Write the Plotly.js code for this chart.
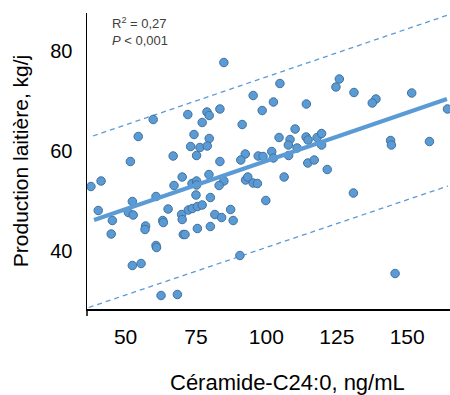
<!DOCTYPE html>
<html>
<head>
<meta charset="utf-8">
<script src="https://cdn.plot.ly/plotly-3.0.1.min.js"></script>
<style>
  html, body { margin: 0; padding: 0; background: #fff; }
  #chart { width: 450px; height: 395px; }
</style>
</head>
<body>
<div id="chart"></div>
<script>
// Céramide-C24:0 (ng/mL)
const ceramide = [
  37.7, 41.3, 51.7, 54.5, 59.8, 72.1, 78.9, 79.7, 77.2, 74.3,
  79.7, 73.1, 76.4, 79.0, 66.9, 75.2, 84.9, 104.8, 95.3, 102.5,
  114.2, 83.5, 98.5, 91.4, 110.2, 104.5, 108.4, 107.8, 114.1, 114.8,
  118.0, 119.6, 119.6, 110.9, 101.9, 92.5, 90.9, 97.1, 98.8, 102.5,
  107.9, 83.5, 114.7, 117.0, 121.6, 125.9, 124.7, 131.1, 138.9, 137.6,
  151.6, 164.3, 144.1, 144.4, 157.9, 40.3, 45.3, 44.9, 52.4, 51.0,
  52.7, 60.8, 57.1, 56.9, 65.1, 63.2, 63.4, 60.8, 61.0, 67.2,
  70.1, 73.6, 75.2, 75.2, 75.0, 79.6, 80.1, 69.9, 70.1, 72.3,
  73.7, 75.5, 77.2, 70.5, 71.1, 75.5, 80.1, 52.4, 55.5, 62.6,
  68.4, 84.9, 83.2, 92.6, 93.4, 95.3, 96.8, 106.3, 99.8, 81.7,
  84.1, 87.3, 88.2, 90.6, 130.9, 145.7
];
// Production laitière (kg/j)
const production = [
  52.8, 53.9, 57.8, 62.8, 66.2, 67.2, 67.7, 67.0, 65.6, 63.2,
  62.4, 60.8, 60.6, 60.9, 58.9, 59.0, 77.6, 73.4, 71.0, 69.7,
  69.3, 68.3, 68.0, 65.2, 64.3, 62.6, 62.2, 61.1, 62.7, 62.1,
  62.6, 63.4, 61.1, 60.5, 59.8, 59.3, 58.1, 58.9, 58.8, 58.5,
  59.0, 57.8, 57.5, 58.1, 56.2, 74.3, 72.7, 71.6, 70.3, 69.5,
  71.5, 68.3, 62.0, 61.1, 61.8, 48.0, 46.0, 43.3, 49.8, 47.6,
  47.1, 50.8, 44.9, 44.2, 48.3, 46.0, 45.6, 41.0, 40.6, 53.0,
  54.7, 53.4, 53.9, 53.1, 51.1, 55.2, 50.6, 47.2, 46.2, 48.1,
  48.4, 48.8, 49.1, 43.2, 43.2, 44.4, 44.8, 37.0, 37.4, 31.0,
  31.2, 53.9, 53.0, 54.1, 54.7, 53.5, 53.4, 54.7, 50.0, 47.2,
  46.6, 48.2, 46.0, 39.0, 51.5, 35.4
];
// Regression line and prediction band endpoints
const fitX = [38.8, 164.1];
const fitY = [46.1, 70.3];
const upperX = [38.4, 164.5];
const upperY = [62.9, 87.1];
const lowerX = [36.9, 164.5];
const lowerY = [28.6, 52.9];
// Ticks and texts
const xTicks = [50, 75, 100, 125, 150];
const yTicks = [40, 60, 80];
const xTitle = 'Céramide-C24:0, ng/mL';
const yTitle = 'Production laitière, kg/j';
const statText = 'R<sup>2</sup> = 0,27<br><i>P</i> < 0,001';

const FONT = '"Liberation Sans Narrow", "Arial Narrow", "Liberation Sans", Arial, sans-serif';
const BLUE = '#5B9BD5';

const traces = [
  { x: upperX, y: upperY, mode: 'lines', type: 'scatter',
    line: { color: BLUE, width: 1.3, dash: '5px,4px' }, hoverinfo: 'skip', showlegend: false },
  { x: lowerX, y: lowerY, mode: 'lines', type: 'scatter',
    line: { color: BLUE, width: 1.3, dash: '5px,4px' }, hoverinfo: 'skip', showlegend: false },
  { x: ceramide, y: production, mode: 'markers', type: 'scatter',
    marker: { size: 8.5, color: BLUE, line: { color: '#41719C', width: 1 } }, showlegend: false },
  { x: fitX, y: fitY, mode: 'lines', type: 'scatter',
    line: { color: BLUE, width: 4 }, hoverinfo: 'skip', showlegend: false }
];

const layout = {
  width: 450, height: 395,
  margin: { l: 87, r: 0, t: 13, b: 86 },
  paper_bgcolor: '#fff', plot_bgcolor: '#fff',
  font: { family: FONT, color: '#000' },
  showlegend: false,
  xaxis: {
    range: [36.3, 165.2], tickvals: xTicks, ticktext: xTicks.map(String),
    showgrid: false, zeroline: false, showline: true, linecolor: '#000', linewidth: 1.5,
    ticks: '', ticklabelstandoff: 8, tickfont: { family: FONT, size: 21, color: '#000' }
  },
  yaxis: {
    range: [28.3, 87.5], tickvals: yTicks, ticktext: yTicks.map(String),
    showgrid: false, zeroline: false, showline: true, linecolor: '#000', linewidth: 1.5,
    ticks: '', ticklabelstandoff: 9, tickfont: { family: FONT, size: 20, color: '#000' },
    title: { text: yTitle, font: { family: FONT, size: 21, color: '#000' }, standoff: 16 }
  },
  shapes: [
    { type: 'line', xref: 'paper', yref: 'paper', x0: 0, x1: 0, y0: 0, y1: -7 / 296,
      line: { color: '#000', width: 1.5 } }
  ],
  annotations: [
    { xref: 'paper', yref: 'paper', x: 23 / 363, y: 1, xanchor: 'left', yanchor: 'top',
      text: statText, showarrow: false, align: 'left',
      font: { family: FONT, size: 13, color: '#404040' } },
    { xref: 'paper', yref: 'paper', x: (287.5 - 87) / 363, y: (309 - 382) / 296,
      xanchor: 'center', yanchor: 'middle', text: xTitle, showarrow: false,
      font: { family: FONT, size: 22, color: '#000' } }
  ]
};

Plotly.newPlot('chart', traces, layout, { staticPlot: true, displayModeBar: false });
</script>
</body>
</html>
